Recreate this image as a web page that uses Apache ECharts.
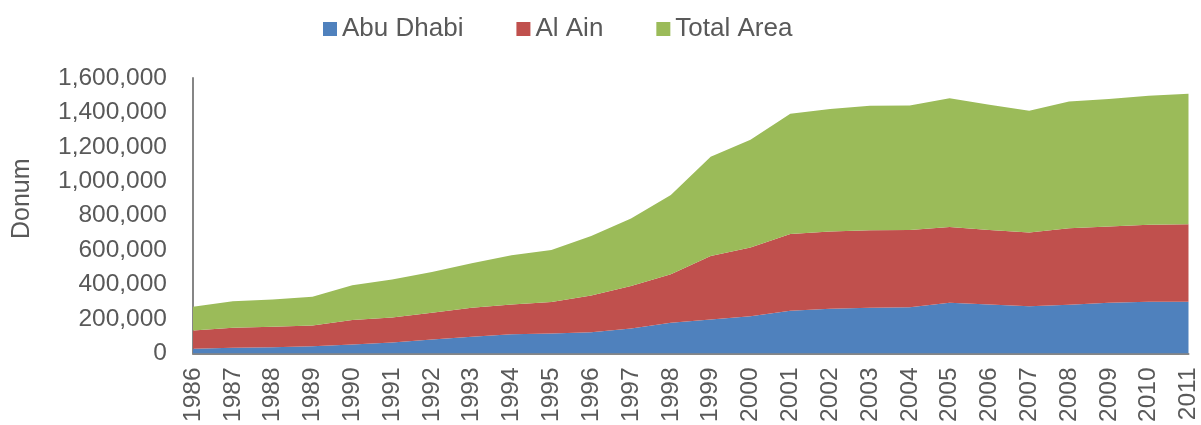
<!DOCTYPE html>
<html>
<head>
<meta charset="utf-8">
<script src="https://cdn.jsdelivr.net/npm/echarts@6/dist/echarts.min.js"></script>
<style>
html,body{margin:0;padding:0;background:#fff;}
#chart{width:1201px;height:425px;}
</style>
</head>
<body>
<div id="chart"></div>
<script>
var years = ['1986','1987','1988','1989','1990','1991','1992','1993','1994','1995','1996','1997','1998','1999','2000','2001','2002','2003','2004','2005','2006','2007','2008','2009','2010','2011'];
var abuDhabi = [27000,33000,36000,42000,52000,64000,81000,97000,112000,116000,124000,145000,178000,198000,217000,248000,260000,266000,268000,295000,285000,275000,283000,295000,300000,300000];
var alAin = [107000,116000,119000,121000,142000,145000,156000,169000,173000,183000,213000,247000,282000,368000,398000,446000,448000,450000,449000,440000,432000,427000,444000,442000,447000,451000];
var totalArea = [137000,155000,159000,167000,202000,221000,236000,258000,285000,302000,346000,392000,461000,576000,626000,698000,712000,723000,724000,747000,728000,708000,737000,741000,750000,758000];
var yTicks = [0,200000,400000,600000,800000,1000000,1200000,1400000,1600000];

var FONT = '"Liberation Sans", Arial, sans-serif';
var TXT = '#595959';
function fmt(v){ return String(v).replace(/\B(?=(\d{3})+(?!\d))/g, ','); }

var chart = echarts.init(document.getElementById('chart'), null, {renderer:'canvas'});
function areaSeries(name, data, color){
  return {
    name: name, type: 'line', stack: 'total', data: data,
    symbol: 'none', showSymbol: false,
    lineStyle: {width: 0, color: color},
    itemStyle: {color: color},
    areaStyle: {color: color, opacity: 1},
    emphasis: {disabled: true}
  };
}
chart.setOption({
  animation: false,
  textStyle: {fontFamily: FONT},
  legend: {
    top: 16, left: 323, padding: 0,
    itemWidth: 14, itemHeight: 14, itemGap: 53,
    icon: 'rect',
    textStyle: {fontSize: 26, color: TXT, fontFamily: FONT},
    data: ['Abu Dhabi','Al Ain','Total Area']
  },
  grid: {left: 193, right: 11, top: 78, bottom: 71, containLabel: false},
  xAxis: {
    type: 'category', data: years, boundaryGap: false,
    axisLine: {show: true, lineStyle: {color: '#868686', width: 2}},
    axisTick: {show: false},
    axisLabel: {rotate: 90, fontSize: 24.5, color: TXT, fontFamily: FONT, margin: 14, interval: 0}
  },
  yAxis: {
    type: 'value', min: yTicks[0], max: yTicks[yTicks.length-1], interval: 200000,
    name: 'Donum', nameLocation: 'middle', nameGap: 158, nameRotate: 90,
    nameTextStyle: {fontSize: 25, color: TXT, fontFamily: FONT, padding: [0, 0, 0, 34]},
    axisLine: {show: true, lineStyle: {color: '#868686', width: 2}},
    axisTick: {show: false},
    splitLine: {show: false},
    axisLabel: {fontSize: 24.5, color: TXT, fontFamily: FONT, margin: 26, formatter: function(v){return fmt(v);}}
  },
  series: [
    areaSeries('Abu Dhabi', abuDhabi, '#4F81BD'),
    areaSeries('Al Ain', alAin, '#C0504D'),
    areaSeries('Total Area', totalArea, '#9BBB59')
  ]
});
</script>
</body>
</html>
